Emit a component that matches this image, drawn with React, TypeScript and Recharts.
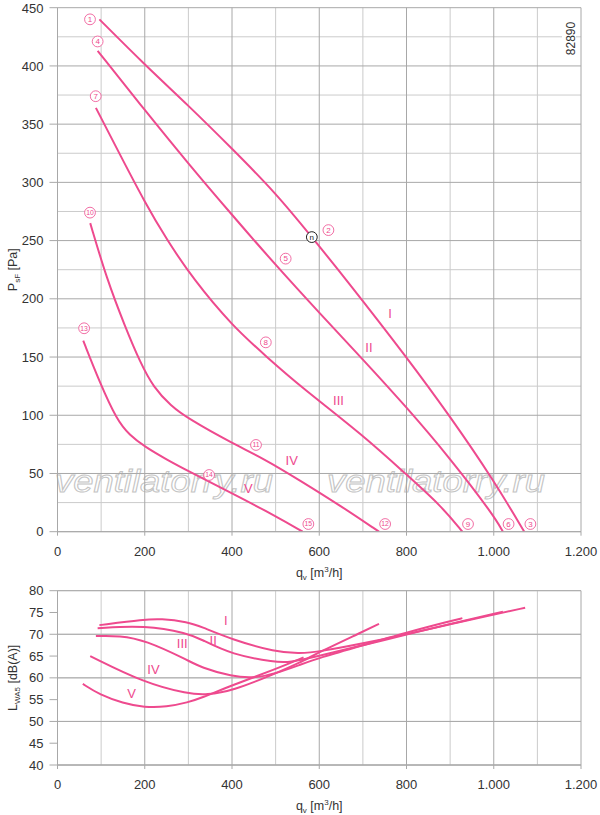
import React from 'react';
import { ComposedChart, Line, Scatter, XAxis, YAxis, CartesianGrid, Label } from 'recharts';

const PINK = '#ee4a8e';
const GRID_MAJOR = '#a8a8a8';
const GRID_MINOR = '#cbcbcb';
const FONT = '"Liberation Sans", Arial, sans-serif';

// ---------- Top chart: P_sF [Pa] vs q_v [m3/h] ----------
const pressureI = [
  { q: 96, p: 440 }, { q: 200, p: 401 }, { q: 300, p: 366 }, { q: 400, p: 329 },
  { q: 500, p: 291 }, { q: 583, p: 253 }, { q: 663, p: 216 }, { q: 800, p: 150 },
  { q: 900, p: 99 }, { q: 1000, p: 44 }, { q: 1070, p: 0 },
];
const pressureII = [
  { q: 92, p: 413 }, { q: 200, p: 362 }, { q: 300, p: 316 }, { q: 400, p: 272 },
  { q: 500, p: 229 }, { q: 600, p: 188 }, { q: 700, p: 148 }, { q: 800, p: 107 },
  { q: 900, p: 63 }, { q: 1000, p: 14 }, { q: 1021, p: 0 },
];
const pressureIII = [
  { q: 88, p: 364 }, { q: 143, p: 324 }, { q: 200, p: 283 }, { q: 250, p: 251 },
  { q: 311, p: 217 }, { q: 400, p: 177 }, { q: 480, p: 150 }, { q: 556, p: 125 },
  { q: 700, p: 83 }, { q: 800, p: 49 }, { q: 880, p: 22 }, { q: 928, p: 0 },
];
const pressureIV = [
  { q: 75, p: 265 }, { q: 113, p: 217 }, { q: 155, p: 176 }, { q: 190, p: 145 },
  { q: 220, p: 124 }, { q: 260, p: 108 }, { q: 300, p: 97 }, { q: 400, p: 76 },
  { q: 472, p: 63 }, { q: 556, p: 44 }, { q: 650, p: 22 }, { q: 737, p: 0 },
];
const pressureV = [
  { q: 59, p: 164 }, { q: 97, p: 128 }, { q: 136, p: 96 }, { q: 165, p: 83 },
  { q: 200, p: 73 }, { q: 250, p: 62 }, { q: 300, p: 52 }, { q: 400, p: 33 },
  { q: 500, p: 13.5 }, { q: 562, p: 0 },
];
const pressureSeries = [pressureI, pressureII, pressureIII, pressureIV, pressureV];

// numbered operating points (circled labels)
const pointMarks = [
  { n: '1', q: 74.5, p: 440 }, { n: '4', q: 92, p: 421 }, { n: '7', q: 87.6, p: 374 },
  { n: '10', q: 74.5, p: 274 }, { n: '13', q: 61, p: 174.7 },
  { n: '2', q: 621, p: 259 }, { n: '5', q: 523, p: 234.5 }, { n: '8', q: 477.5, p: 162.6 },
  { n: '11', q: 455, p: 74.5 }, { n: '14', q: 347.5, p: 48.7 },
  { n: '15', q: 575, p: 6.6 }, { n: '12', q: 751, p: 6.6 }, { n: '9', q: 941, p: 6.6 },
  { n: '6', q: 1034, p: 6.6 }, { n: '3', q: 1084, p: 6.6 },
];
const nominalMark = [{ n: 'n', q: 583, p: 253 }];
const pressureCurveNames = [
  { t: 'I', q: 762.6, p: 187.6 }, { t: 'II', q: 714, p: 158 }, { t: 'III', q: 644, p: 113 },
  { t: 'IV', q: 537, p: 61.6 }, { t: 'V', q: 437.6, p: 37.3 },
];

const flowTicks = [0, 200, 400, 600, 800, 1000, 1200];
const flowMinor = [100, 300, 500, 700, 900, 1100];
const pressureTicks = [0, 50, 100, 150, 200, 250, 300, 350, 400, 450];
const pressureMinor = [25, 75, 125, 175, 225, 275, 325, 375, 425];

// ---------- Bottom chart: L_WA5 [dB(A)] vs q_v ----------
const soundI = [
  { q: 96, l: 72.1 }, { q: 200, l: 73.4 }, { q: 235, l: 73.6 }, { q: 300, l: 72.8 },
  { q: 328, l: 71.8 }, { q: 400, l: 68.8 }, { q: 500, l: 65.9 }, { q: 556, l: 65.6 },
  { q: 600, l: 66.0 }, { q: 700, l: 67.9 }, { q: 800, l: 70.0 }, { q: 900, l: 72.3 },
  { q: 1000, l: 74.5 }, { q: 1072, l: 76.1 },
];
const soundII = [
  { q: 92, l: 71.4 }, { q: 200, l: 72.1 }, { q: 300, l: 70.2 }, { q: 328, l: 68.9 },
  { q: 400, l: 65.3 }, { q: 500, l: 63.6 }, { q: 530, l: 63.5 }, { q: 600, l: 65.0 },
  { q: 700, l: 67.5 }, { q: 800, l: 69.9 }, { q: 900, l: 72.4 }, { q: 1021, l: 75.2 },
];
const soundIII = [
  { q: 88, l: 69.6 }, { q: 143, l: 69.7 }, { q: 200, l: 68.7 }, { q: 300, l: 64.0 },
  { q: 328, l: 62.4 }, { q: 400, l: 60.3 }, { q: 450, l: 59.9 }, { q: 500, l: 61.0 },
  { q: 556, l: 63.0 }, { q: 600, l: 64.6 }, { q: 700, l: 67.5 }, { q: 800, l: 70.4 },
  { q: 900, l: 73.0 }, { q: 928, l: 73.7 },
];
const soundIV = [
  { q: 75, l: 65.0 }, { q: 200, l: 58.8 }, { q: 300, l: 56.3 }, { q: 342, l: 56.1 },
  { q: 400, l: 57.0 }, { q: 500, l: 61.0 }, { q: 556, l: 63.5 }, { q: 600, l: 65.9 },
  { q: 700, l: 70.6 }, { q: 737, l: 72.4 },
];
const soundV = [
  { q: 58, l: 58.6 }, { q: 97, l: 56.1 }, { q: 150, l: 54.2 }, { q: 199, l: 53.2 },
  { q: 250, l: 53.3 }, { q: 300, l: 54.4 }, { q: 328, l: 55.3 }, { q: 400, l: 58.3 },
  { q: 500, l: 62.0 }, { q: 564, l: 64.7 },
];
const soundSeries = [soundI, soundII, soundIII, soundIV, soundV];
const soundCurveNames = [
  { t: 'I', q: 386, l: 73.1 }, { t: 'II', q: 357, l: 68.5 }, { t: 'III', q: 286, l: 67.8 },
  { t: 'IV', q: 220, l: 62.0 }, { t: 'V', q: 170, l: 56.5 },
];
const soundTicks = [40, 45, 50, 55, 60, 65, 70, 75, 80];

const fmtFlow = (v: number) =>
  v >= 1000 ? `${Math.floor(v / 1000)}.${String(v % 1000).padStart(3, '0')}` : String(v);

const tickStyle = { fontSize: 13, fill: '#333', fontFamily: FONT };

const CircleMark = (props: any) => {
  const { cx, cy, payload } = props;
  const isN = payload.n === 'n';
  const col = isN ? '#222' : PINK;
  return (
    <g>
      <circle cx={cx} cy={cy} r={5.4} fill="#fff" stroke={col} strokeWidth={isN ? 1 : 0.8} />
      <text
        x={cx}
        y={cy}
        dy="0.35em"
        textAnchor="middle"
        fontSize={payload.n.length > 1 ? 6.8 : 8}
        fontFamily={FONT}
        fill={col}
      >
        {payload.n}
      </text>
    </g>
  );
};

const NameMark = (props: any) => {
  const { cx, cy, payload } = props;
  return (
    <text x={cx} y={cy} dy="0.35em" textAnchor="middle" fontSize={13} fontFamily={FONT} fill={PINK}>
      {payload.t}
    </text>
  );
};

const FlowTitle = (props: any) => {
  const vb = props.viewBox || {};
  const x = vb.x + vb.width / 2;
  const y = vb.y + 45;
  return (
    <text x={x} y={y} textAnchor="middle" fontSize={12.5} fontFamily={FONT} fill="#333">
      <tspan>q</tspan>
      <tspan fontSize={8} dy={3}>v</tspan>
      <tspan dy={-3}> [m</tspan>
      <tspan fontSize={8} dy={-5}>3</tspan>
      <tspan dy={5}>/h]</tspan>
    </text>
  );
};

const makeYTitle = (main: string, sub: string, rest: string) => (props: any) => {
  const vb = props.viewBox || {};
  const cx = vb.x + 17.5;
  const cy = vb.y + vb.height / 2;
  return (
    <text
      x={cx}
      y={cy}
      transform={`rotate(-90 ${cx} ${cy})`}
      textAnchor="middle"
      fontSize={12.5}
      fontFamily={FONT}
      fill="#333"
    >
      <tspan>{main}</tspan>
      <tspan fontSize={8} dy={3}>{sub}</tspan>
      <tspan dy={-3}>{rest}</tspan>
    </text>
  );
};

const PressureTitle = makeYTitle('P', 'sF', ' [Pa]');
const SoundTitle = makeYTitle('L', 'WA5', ' [dB(A)]');

export default function App() {
  return (
    <div style={{ position: 'absolute', left: 0, top: 0, width: 600, height: 815, background: '#fff' }}>
      <svg width={600} height={815} style={{ position: 'absolute', left: 0, top: 0 }}>
        <g fontFamily={FONT} fontStyle="italic" fontSize={32} fill="none" stroke="#c4c4c4" strokeWidth={1}>
          <text x={55} y={492} textLength={218} lengthAdjust="spacingAndGlyphs">ventilatorry.ru</text>
          <text x={327} y={492} textLength={218} lengthAdjust="spacingAndGlyphs">ventilatorry.ru</text>
        </g>
      </svg>

      <div style={{ position: 'absolute', left: 0, top: 0 }}>
        <ComposedChart width={600} height={585} margin={{ top: 7.7, right: 19, bottom: 3.3, left: 0 }}>
          <CartesianGrid
            stroke={GRID_MINOR}
            strokeWidth={1}
            verticalValues={flowMinor}
            horizontalValues={pressureMinor}
          />
          <CartesianGrid
            stroke={GRID_MAJOR}
            strokeWidth={1}
            verticalValues={flowTicks}
            horizontalValues={pressureTicks}
          />
          <XAxis
            dataKey="q"
            type="number"
            domain={[0, 1200]}
            ticks={flowTicks}
            tickFormatter={fmtFlow}
            height={50}
            tickSize={4}
            tickMargin={11}
            tick={tickStyle}
            axisLine={{ stroke: GRID_MAJOR }}
            tickLine={{ stroke: GRID_MAJOR }}
            allowDataOverflow
          >
            <Label content={FlowTitle} />
          </XAxis>
          <YAxis
            type="number"
            domain={[0, 450]}
            ticks={pressureTicks}
            width={57.5}
            tickSize={8}
            tickMargin={6}
            tick={tickStyle}
            axisLine={{ stroke: GRID_MAJOR }}
            tickLine={{ stroke: GRID_MAJOR }}
            allowDataOverflow
          >
            <Label content={PressureTitle} />
          </YAxis>
          {pressureSeries.map((d, i) => (
            <Line
              key={`p${i}`}
              data={d}
              dataKey="p"
              type="basis"
              stroke={PINK}
              strokeWidth={2}
              dot={false}
              activeDot={false}
              isAnimationActive={false}
            />
          ))}
          <Scatter data={pointMarks} dataKey="p" shape={CircleMark} isAnimationActive={false} />
          <Scatter data={nominalMark} dataKey="p" shape={CircleMark} isAnimationActive={false} />
          <Scatter data={pressureCurveNames} dataKey="p" shape={NameMark} isAnimationActive={false} />
        </ComposedChart>
      </div>

      <div style={{ position: 'absolute', left: 0, top: 575 }}>
        <ComposedChart width={600} height={240} margin={{ top: 15.7, right: 19, bottom: 5, left: 0 }}>
          <CartesianGrid stroke={GRID_MINOR} strokeWidth={1} verticalValues={flowMinor} horizontalValues={[]} />
          <CartesianGrid
            stroke={GRID_MAJOR}
            strokeWidth={1}
            verticalValues={flowTicks}
            horizontalValues={soundTicks}
          />
          <XAxis
            dataKey="q"
            type="number"
            domain={[0, 1200]}
            ticks={flowTicks}
            tickFormatter={fmtFlow}
            height={45}
            tickSize={4}
            tickMargin={11}
            tick={tickStyle}
            axisLine={{ stroke: GRID_MAJOR }}
            tickLine={{ stroke: GRID_MAJOR }}
            allowDataOverflow
          >
            <Label content={FlowTitle} />
          </XAxis>
          <YAxis
            type="number"
            domain={[40, 80]}
            ticks={soundTicks}
            width={57.5}
            tickSize={8}
            tickMargin={6}
            tick={tickStyle}
            axisLine={{ stroke: GRID_MAJOR }}
            tickLine={{ stroke: GRID_MAJOR }}
            allowDataOverflow
          >
            <Label content={SoundTitle} />
          </YAxis>
          {soundSeries.map((d, i) => (
            <Line
              key={`s${i}`}
              data={d}
              dataKey="l"
              type="basis"
              stroke={PINK}
              strokeWidth={2}
              dot={false}
              activeDot={false}
              isAnimationActive={false}
            />
          ))}
          <Scatter data={soundCurveNames} dataKey="l" shape={NameMark} isAnimationActive={false} />
        </ComposedChart>
      </div>

      <svg width={600} height={815} style={{ position: 'absolute', left: 0, top: 0, pointerEvents: 'none' }}>
        <rect x={562} y={21} width={14} height={35} fill="#fff" />
        <text
          x={575}
          y={38.5}
          transform="rotate(-90 575 38.5)"
          textAnchor="middle"
          fontSize={12}
          fontFamily={FONT}
          fill="#333"
        >
          82890
        </text>
      </svg>
    </div>
  );
}
